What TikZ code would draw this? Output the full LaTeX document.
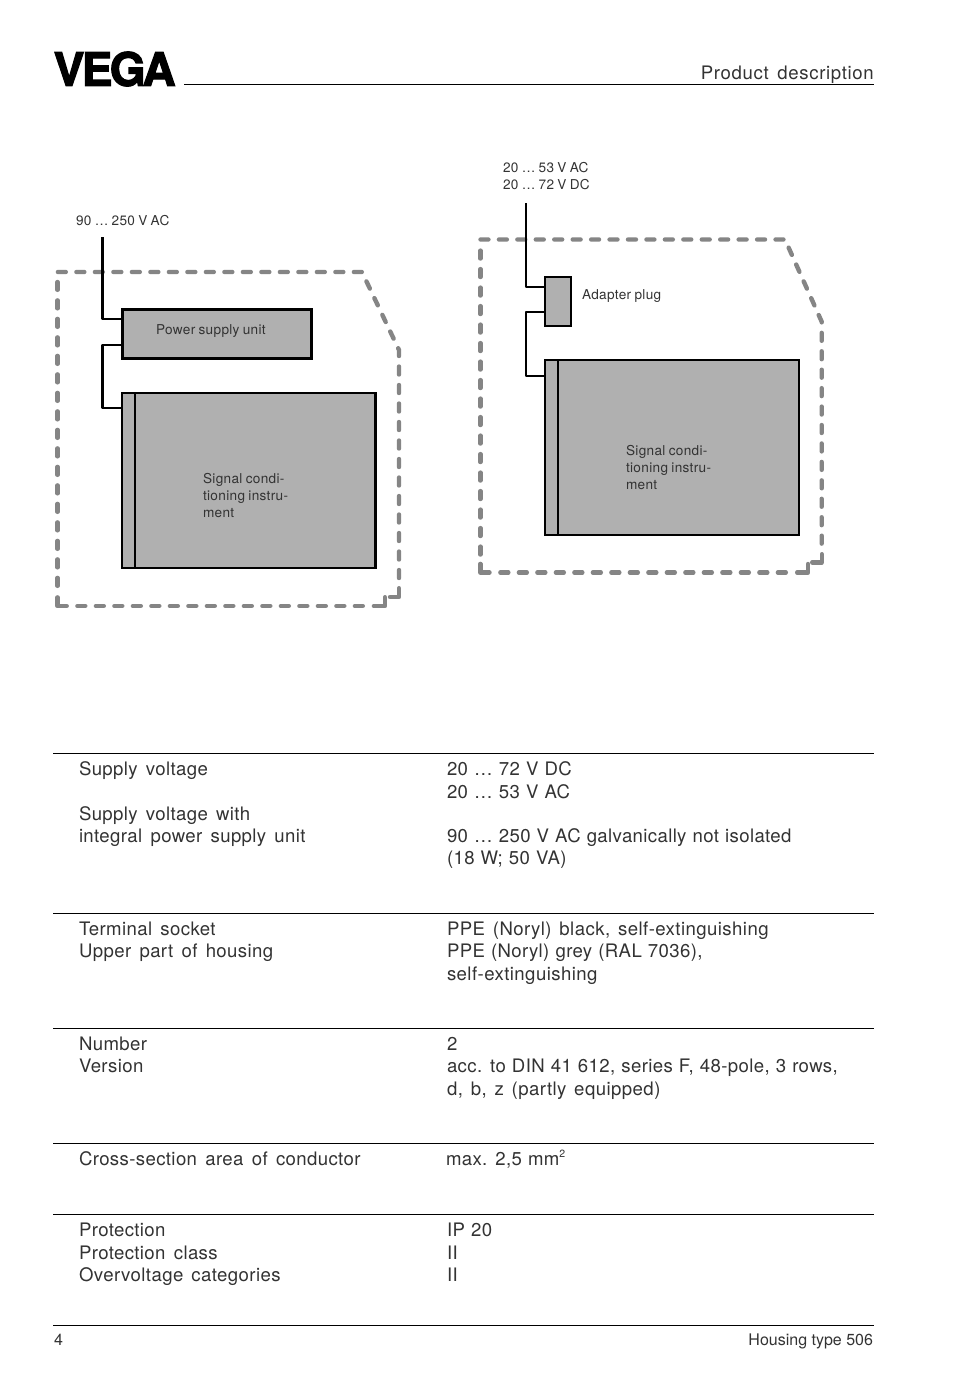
\documentclass[tikz,border=0pt]{standalone}
\usepackage{fontspec}
\setmainfont{TeX Gyre Heros}[WordSpace=1.5,LetterSpace=2]
\newfontfamily\valf{TeX Gyre Heros}[WordSpace=1.1,LetterSpace=2]
\newfontfamily\widef{TeX Gyre Heros}[WordSpace=1.4,LetterSpace=2.3]
\newfontfamily\headf{TeX Gyre Heros}[WordSpace=1.5,LetterSpace=3.5]
\newfontfamily\plainf{TeX Gyre Heros}[WordSpace=0.8,LetterSpace=2.5]
\newfontfamily\footf{TeX Gyre Heros}[WordSpace=0.8]
\newfontfamily\logof{TeX Gyre Heros}[BoldFeatures={FakeBold=2.5,LetterSpace=-5.8}]
\definecolor{ink}{HTML}{333333}
\definecolor{boxgrey}{HTML}{B0B0B0}
\definecolor{dashgrey}{HTML}{858585}
\tikzset{
 body/.style={inner sep=0pt,outer sep=0pt,anchor=base west,text=ink,font=\fontsize{18.6}{22}\selectfont},
 val/.style={inner sep=0pt,outer sep=0pt,anchor=base west,text=ink,font=\valf\fontsize{18.6}{22}\selectfont},
 wideval/.style={inner sep=0pt,outer sep=0pt,anchor=base west,text=ink,font=\widef\fontsize{18.6}{22}\selectfont},
 small/.style={inner sep=0pt,outer sep=0pt,anchor=base west,text=ink,font=\plainf\fontsize{13.6}{17}\selectfont},
 foot/.style={inner sep=0pt,outer sep=0pt,text=ink,font=\footf\fontsize{16}{18}\selectfont},
 unit/.style={draw=black,fill=boxgrey,line width=2.2pt,inner sep=0pt,outer sep=0pt,anchor=north west},
 housingbase/.style={draw=dashgrey,line width=4.4pt,line cap=round,line join=round},
 housing/.style={housingbase,dash pattern=on 7.9pt off 10.6pt},
 wire/.style={draw=black,line width=2.2pt,line join=round},
 rulel/.style={draw=black,line width=1pt},
 divider/.style={draw=black,line width=2pt}
}
\begin{document}
\begin{tikzpicture}[x=1pt,y=-1pt]
\useasboundingbox[fill=white] (0,0) rectangle (954,1378);
% logo
\node[inner sep=0pt,anchor=base west,text=black] (logo) at (53.5,85.8) {\logof\bfseries\fontsize{46}{46}\selectfont VEGA};
% header
\coordinate (hr1) at (184,85); \coordinate (hr2) at (874,85);
\draw[rulel] (hr1) -- (hr2);
\node[inner sep=0pt,anchor=base east,text=ink,font=\headf\fontsize{18.6}{22}\selectfont] (head) at (874,80) {Product description};
% left housing
\draw[housing] (57.9,272) -- (362,272) -- (399,350) -- (399,578);
\draw[housingbase] (399,588.2) -- (399,597) -- (390,597);
\draw[housingbase] (385,597.2) -- (385,606) -- (373.9,606);
\draw[housing] (362.8,606) -- (77.4,606);
\draw[housingbase] (66.7,606) -- (57.5,606) -- (57.5,597.4);
\draw[housing] (57.5,585.8) -- (57.5,282);
\node[unit,minimum width=189pt,minimum height=49pt] (psu) at (122.5,309.5) {};
\node[unit,minimum width=253.2pt,minimum height=175pt] (sigL) at (122.3,393.3) {};
\draw[divider] ([xshift=12.5pt]sigL.north west) -- ([xshift=12.5pt]sigL.south west);
\coordinate (acin) at (102.5,237);
\draw[wire] (acin) |- ([yshift=-9.5pt]psu.north west);
\draw[wire] ([yshift=-35.5pt]psu.north west) -| (102.5,380) |- ([yshift=-14.5pt]sigL.north west);
\node[small] (lac) at (76,225) {90 … 250 V AC};
\node[small] (lpsu) at (156,334) {Power supply unit};
\node[small] (ls1) at (203,483) {Signal condi-};
\node[small] (ls2) at (203,500) {tioning instru-};
\node[small] (ls3) at (203,517) {ment};
% right housing
\draw[housing,dash pattern=on 7.9pt off 10.54pt] (480.5,239.5) -- (785,239.5) -- (821.7,321.7) -- (821.7,545);
\draw[housingbase] (821.7,554.2) -- (821.7,562.3) -- (812.2,562.3);
\draw[housingbase] (808,564) -- (808,572.5) -- (797.2,572.5);
\draw[housing] (785.8,572.5) -- (499.3,572.5);
\draw[housingbase] (489.5,572.5) -- (480.3,572.5) -- (480.3,563.9);
\draw[housing] (480.3,554.5) -- (480.3,249);
\node[unit,line width=2pt,minimum width=26pt,minimum height=49pt] (plug) at (545,276.8) {};
\node[unit,line width=2pt,minimum width=254pt,minimum height=175pt] (sigR) at (545,360) {};
\draw[divider] ([xshift=12.7pt]sigR.north west) -- ([xshift=12.7pt]sigR.south west);
\coordinate (dcin) at (525.7,203);
\draw[wire,line width=1.8pt] (dcin) |- ([yshift=-10pt]plug.north west);
\draw[wire] ([yshift=-35.3pt]plug.north west) -| (525.7,340) |- ([yshift=-15.7pt]sigR.north west);
\node[small] (rac) at (503,172) {20 … 53 V AC};
\node[small] (rdc) at (503,189) {20 … 72 V DC};
\node[small] (lplug) at (582,299) {Adapter plug};
\node[small] (rs1) at (626,455) {Signal condi-};
\node[small] (rs2) at (626,472) {tioning instru-};
\node[small] (rs3) at (626,489) {ment};
% table rules
\foreach \y/\n in {753.5/a,913.5/b,1028.5/c,1143.5/d,1214.5/e,1325.5/f}{
 \coordinate (r\n1) at (53,\y); \coordinate (r\n2) at (874,\y);
 \draw[rulel] (r\n1) -- (r\n2);
}
% row 1
\node[body] (t1) at (79,775) {Supply voltage};
\node[body] (t2) at (79,820) {Supply voltage with};
\node[body] (t3) at (79,842) {integral power supply unit};
\node[val] (v1) at (447,775) {20 … 72 V DC};
\node[val] (v2) at (447,798) {20 … 53 V AC};
\node[val] (v3) at (447,842) {90 … 250 V AC galvanically not isolated};
\node[val] (v4) at (447,864) {(18 W; 50 VA)};
% row 2
\node[body] (t4) at (79,935) {Terminal socket};
\node[body] (t5) at (79,957) {Upper part of housing};
\node[wideval] (v5) at (447,935) {PPE (Noryl) black, self-extinguishing};
\node[val] (v6) at (447,957) {PPE (Noryl) grey (RAL 7036),};
\node[wideval] (v7) at (447,980) {self-extinguishing};
% row 3
\node[body] (t6) at (79,1050) {Number};
\node[body] (t7) at (79,1072) {Version};
\node[val] (v8) at (447,1050) {2};
\node[val] (v9) at (447,1072) {acc. to DIN 41 612, series F, 48-pole, 3 rows,};
\node[wideval] (v10) at (447,1095) {d, b, z (partly equipped)};
% row 4
\node[body] (t8) at (79,1165) {Cross-section area of conductor};
\node[val] (v11) at (446,1165) {max. 2,5 mm\raisebox{7.5pt}{\fontsize{10.5}{10.5}\selectfont 2}};
% row 5
\node[body] (t9) at (79,1236) {Protection};
\node[body] (t10) at (79,1259) {Protection class};
\node[wideval] (t11) at (79,1281) {Overvoltage categories};
\node[val] (v12) at (447,1236) {IP 20};
\node[val] (v13) at (447,1259) {II};
\node[val] (v14) at (447,1281) {II};
% footer
\node[foot,anchor=base west] (pg) at (54,1345) {4};
\node[foot,anchor=base east] (ft) at (873,1345) {Housing type 506};
\end{tikzpicture}
\end{document}
